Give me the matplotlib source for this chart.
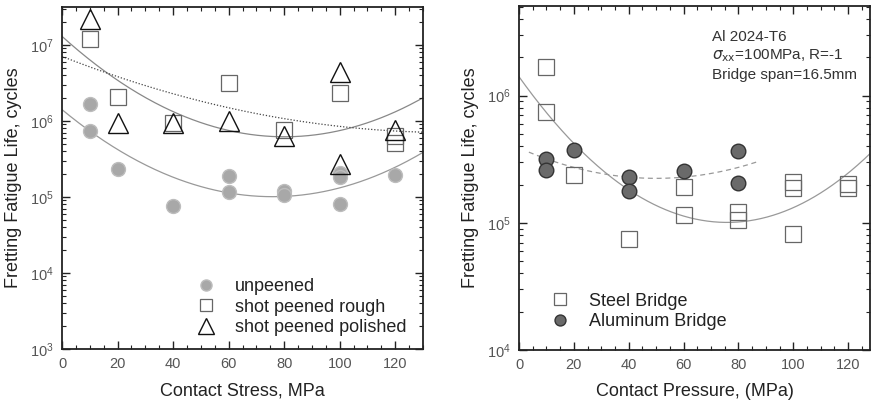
import numpy as np
import matplotlib
matplotlib.use("Agg")
import matplotlib.pyplot as plt
from matplotlib.ticker import MultipleLocator, LogLocator, NullFormatter

plt.rcParams['font.family'] = ['Liberation Sans', 'DejaVu Sans']

# ---------------- Left panel data ----------------
unpeened_x = [10, 10, 20, 40, 60, 60, 80, 80, 100, 100, 100, 120]
unpeened_y = [1.67e6, 7.4e5, 2.34e5, 7.5e4, 1.91e5, 1.15e5, 1.2e5, 1.06e5, 2.05e5, 1.85e5, 8.2e4, 1.95e5]

rough_x = [10, 20, 40, 60, 80, 100, 120, 120]
rough_y = [1.2e7, 2.06e6, 9.5e5, 3.2e6, 7.5e5, 2.33e6, 6.3e5, 5.2e5]

polished_x = [10, 20, 40, 60, 80, 100, 100, 120]
polished_y = [2.2e7, 9.3e5, 9.3e5, 1.0e6, 6.3e5, 4.37e6, 2.75e5, 7.6e5]

# fit curves: log10(N) = a + b*x + c*x^2
fit_unpeened = [6.15, -0.0302, 1.99e-4]
fit_rough = [7.114, -0.0330, 2.06e-4]
fit_polished = [6.85, -0.01435, 5.14e-5]

# ---------------- Right panel data ----------------
steel_x = [10, 10, 20, 40, 60, 60, 80, 80, 100, 100, 100, 120, 120]
steel_y = [1.67e6, 7.45e5, 2.36e5, 7.5e4, 1.9e5, 1.16e5, 1.22e5, 1.05e5, 2.08e5, 1.88e5, 8.2e4, 2.02e5, 1.88e5]

alu_x = [10, 10, 20, 40, 40, 60, 80, 80]
alu_y = [3.2e5, 2.6e5, 3.75e5, 2.29e5, 1.77e5, 2.54e5, 3.64e5, 2.06e5]

fit_steel = [6.149, -0.0302, 1.99e-4]
fit_alu = [5.589, -0.00957, 9.57e-5]

def curve(coef, x):
    a, b, c = coef
    return 10 ** (a + b * x + c * x ** 2)

fig = plt.figure(figsize=(8.71, 4.0), dpi=100)
axL = fig.add_axes([62/871, 1-349/400, 361/871, 342/400])
axR = fig.add_axes([519/871, 1-350/400, 351/871, 344/400])

tick_col = '#555555'
for ax in (axL, axR):
    ax.set_yscale('log')
    ax.tick_params(which='both', direction='in', top=True, right=True,
                   labelcolor=tick_col, labelsize=10.5, color='#222222')
    ax.tick_params(which='major', length=6, width=1.0, pad=6)
    ax.tick_params(which='minor', length=3, width=0.8)
    ax.xaxis.set_major_locator(MultipleLocator(20))
    ax.xaxis.set_minor_locator(MultipleLocator(5))
    ax.yaxis.set_minor_locator(LogLocator(base=10, subs=np.arange(2, 10)))
    ax.yaxis.set_minor_formatter(NullFormatter())
    for s in ax.spines.values():
        s.set_linewidth(1.3)
        s.set_color('#222222')

# Left
xx = np.linspace(0, 130, 300)
axL.plot(xx, curve(fit_unpeened, xx), color='#999999', lw=0.9, zorder=1)
axL.plot(xx, curve(fit_rough, xx), color='#888888', lw=0.9, zorder=1)
axL.plot(xx, curve(fit_polished, xx), color='#444444', lw=0.9, ls=(0, (1, 1.5)), zorder=1)

axL.plot(unpeened_x, unpeened_y, 'o', ms=10, mfc='#a8a8a8', mec='#bdbdbd', mew=1.0,
         ls='none', label='unpeened', zorder=3)
axL.plot(rough_x, rough_y, 's', ms=11, mfc='none', mec='#666666', mew=0.9,
         ls='none', label='shot peened rough', zorder=3)
axL.plot(polished_x, polished_y, '^', ms=14, mfc='none', mec='#111111', mew=1.0,
         ls='none', label='shot peened polished', zorder=4)
axL.set_xlim(0, 130)
axL.set_ylim(1e3, 10 ** 7.5)
axL.set_xlabel('Contact Stress, MPa', fontsize=13, labelpad=8, color='#222222')
axL.set_ylabel('Fretting Fatigue Life, cycles', fontsize=13, labelpad=6, color='#222222')
leg = axL.legend(loc='lower left', bbox_to_anchor=(0.315, 0.0), frameon=False,
                 fontsize=13, handletextpad=0.6, labelspacing=0.2,
                 markerscale=0.8, borderaxespad=0.3)
for t in leg.get_texts():
    t.set_color('#222222')

# Right
xs = np.linspace(0, 130, 300)
axR.plot(xs, curve(fit_steel, xs), color='#999999', lw=0.9, zorder=1)
xa = np.linspace(3.6, 87, 200)
axR.plot(xa, curve(fit_alu, xa), color='#999999', lw=0.9, ls=(0, (4, 3)), zorder=1)
axR.plot(steel_x, steel_y, 's', ms=11, mfc='none', mec='#666666', mew=0.9,
         ls='none', label='Steel Bridge', zorder=3)
axR.plot(alu_x, alu_y, 'o', ms=10.5, mfc='#6a6a6a', mec='#333333', mew=1.0,
         ls='none', label='Aluminum Bridge', zorder=3)
axR.set_xlim(0, 128)
axR.set_ylim(1e4, 10 ** 6.705)
axR.set_xlabel('Contact Pressure, (MPa)', fontsize=13, labelpad=8, color='#222222')
axR.set_ylabel('Fretting Fatigue Life, cycles', fontsize=13, labelpad=6, color='#222222')
legR = axR.legend(loc='lower left', bbox_to_anchor=(0.02, 0.01), frameon=False,
                  fontsize=13, handletextpad=0.6, labelspacing=0.2, markerscale=0.75)
for t in legR.get_texts():
    t.set_color('#222222')

axR.text(0.55, 0.855, 'Al 2024-T6\n$\\sigma_{\\rm xx}$=100MPa, R=-1\nBridge span=16.5mm',
         transform=axR.transAxes, fontsize=11, va='center', ha='left',
         color='#333333', linespacing=1.3)

fig.savefig('out.png', dpi=100)
